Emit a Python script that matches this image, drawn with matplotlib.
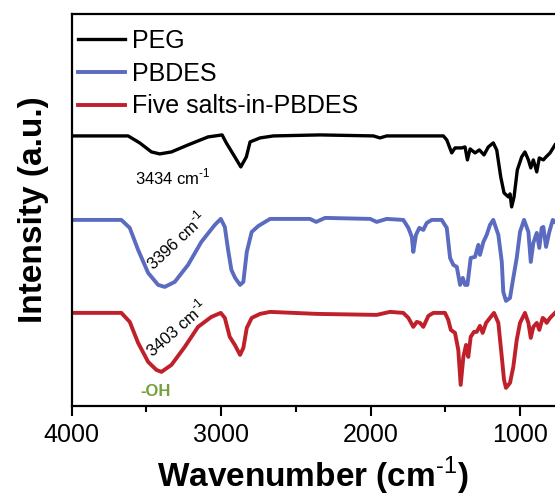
import numpy as np
import matplotlib.pyplot as plt

plt.rcParams['font.family'] = ['Liberation Sans', 'DejaVu Sans']
plt.rcParams['mathtext.fontset'] = 'custom'
plt.rcParams['mathtext.rm'] = 'Liberation Sans'
plt.rcParams['mathtext.bf'] = 'Liberation Sans:bold'

# PEG spectrum (wavenumber, intensity a.u. incl. vertical offset)
peg_wn = [4000, 3622, 3544, 3466, 3410, 3332, 3221, 3087, 2993, 2965, 2908, 2868,
          2831, 2806, 2739, 2650, 2338, 1981, 1937, 1892, 1513, 1490, 1457, 1435,
          1390, 1368, 1352, 1334, 1301, 1272, 1241, 1212, 1179, 1156, 1129, 1107,
          1078, 1067, 1056, 1040, 1018, 989, 967, 944, 928, 911, 888, 871, 844,
          826, 799, 766]
peg_int = [270, 270, 263, 254, 252, 254, 261, 269, 271, 263, 249, 239,
           249, 264, 268, 270, 271, 270, 268, 270, 270, 266, 253, 258,
           258, 259, 246, 257, 253, 256, 251, 259, 263, 256, 229, 213,
           209, 212, 199, 209, 236, 249, 254, 246, 238, 246, 234, 248, 246,
           249, 253, 261]

# PBDES spectrum
pbdes_wn = [4000, 3667, 3611, 3555, 3488, 3421, 3377, 3310, 3221, 3132, 3042, 3002,
            2975, 2953, 2931, 2906, 2873, 2851, 2828, 2795, 2750, 2672, 2405, 2364,
            2304, 2003, 1959, 1892, 1781, 1747, 1724, 1714, 1696, 1674, 1647, 1624,
            1591, 1524, 1490, 1468, 1446, 1423, 1401, 1383, 1368, 1352, 1330, 1301,
            1279, 1268, 1245, 1223, 1201, 1179, 1145, 1122, 1112, 1094, 1067, 1045,
            1022, 1000, 973, 944, 928, 911, 888, 871, 855, 844, 826, 804, 781, 766]
pbdes_int = [186, 186, 178, 156, 133, 121, 119, 124, 141, 164, 181, 187,
             179, 156, 136, 128, 121, 124, 154, 174, 180, 187, 187, 184,
             188, 187, 184, 187, 186, 178, 169, 154, 171, 178, 176, 183,
             186, 186, 178, 148, 141, 139, 121, 128, 121, 121, 148, 149,
             161, 151, 164, 171, 181, 186, 171, 144, 114, 105, 108, 128,
             148, 174, 186, 174, 144, 163, 173, 158, 178, 179, 159, 174, 186, 184]

# Five salts-in-PBDES spectrum
salts_wn = [4000, 3667, 3611, 3555, 3488, 3433, 3399, 3332, 3243, 3154, 3065, 3002,
            2975, 2942, 2908, 2873, 2851, 2828, 2795, 2739, 2672, 2360, 1959, 1870,
            1781, 1747, 1714, 1691, 1669, 1647, 1613, 1580, 1502, 1480, 1463, 1435,
            1413, 1397, 1379, 1361, 1346, 1330, 1308, 1290, 1268, 1250, 1227, 1201,
            1174, 1145, 1122, 1107, 1094, 1067, 1045, 1022, 1000, 967, 944, 928,
            911, 888, 871, 848, 833, 822, 799, 766]
salts_int = [93, 93, 84, 63, 44, 36, 34, 41, 59, 79, 89, 93,
             88, 69, 61, 51, 58, 78, 88, 92, 94, 92, 91, 94,
             93, 88, 79, 84, 83, 79, 90, 93, 93, 86, 76, 73,
             56, 21, 49, 61, 49, 69, 74, 74, 80, 73, 83, 88,
             93, 83, 49, 26, 18, 23, 39, 66, 83, 93, 83, 68,
             79, 83, 76, 88, 86, 83, 88, 93]

fig = plt.figure(figsize=(5.55, 4.98), dpi=100)
ax = fig.add_axes([0.129, 0.185, 0.871, 0.787])

ax.plot(peg_wn, peg_int, color='black', lw=2.4, label='PEG',
        solid_joinstyle='round')
ax.plot(pbdes_wn, pbdes_int, color='#5b6bbf', lw=2.8, label='PBDES',
        solid_joinstyle='round')
ax.plot(salts_wn, salts_int, color='#c0202a', lw=2.8, label='Five salts-in-PBDES',
        solid_joinstyle='round')

ax.text(3321, 229, '3434 cm$^{\\text{-1}}$', fontsize=12, ha='center', va='center')
ax.text(3301, 166, '3396 cm$^{\\text{-1}}$', fontsize=12, ha='center', va='center',
        rotation=43, rotation_mode='anchor')
ax.text(3301, 78, '3403 cm$^{\\text{-1}}$', fontsize=12, ha='center', va='center',
        rotation=41, rotation_mode='anchor')
ax.text(3435, 14, '-OH', fontsize=12, fontweight='bold', color='#76a03c',
        ha='center', va='center')

ax.set_xlim(4000, 766)
ax.set_ylim(0, 392)
ax.set_xticks([4000, 3000, 2000, 1000])
ax.set_xticks([3500, 2500, 1500], minor=True)
ax.set_yticks([])
ax.tick_params(axis='x', which='major', labelsize=18, length=7, width=1.5, pad=5)
ax.tick_params(axis='x', which='minor', length=4, width=1.5)
for s in ['left', 'bottom', 'top']:
    ax.spines[s].set_linewidth(1.6)
ax.spines['right'].set_visible(False)

ax.set_xlabel('Wavenumber (cm$^{\\mathbf{\\text{-1}}}$)', fontsize=24,
              fontweight='bold', labelpad=6)
ax.set_ylabel('Intensity (a.u.)', fontsize=24, fontweight='bold', labelpad=16)

ax.legend(loc='upper left', bbox_to_anchor=(0.013, 0.962), frameon=False,
          fontsize=18, handlelength=1.9, handletextpad=0.25, labelspacing=0.35,
          borderpad=0, borderaxespad=0)

plt.savefig('out.png', dpi=100)
